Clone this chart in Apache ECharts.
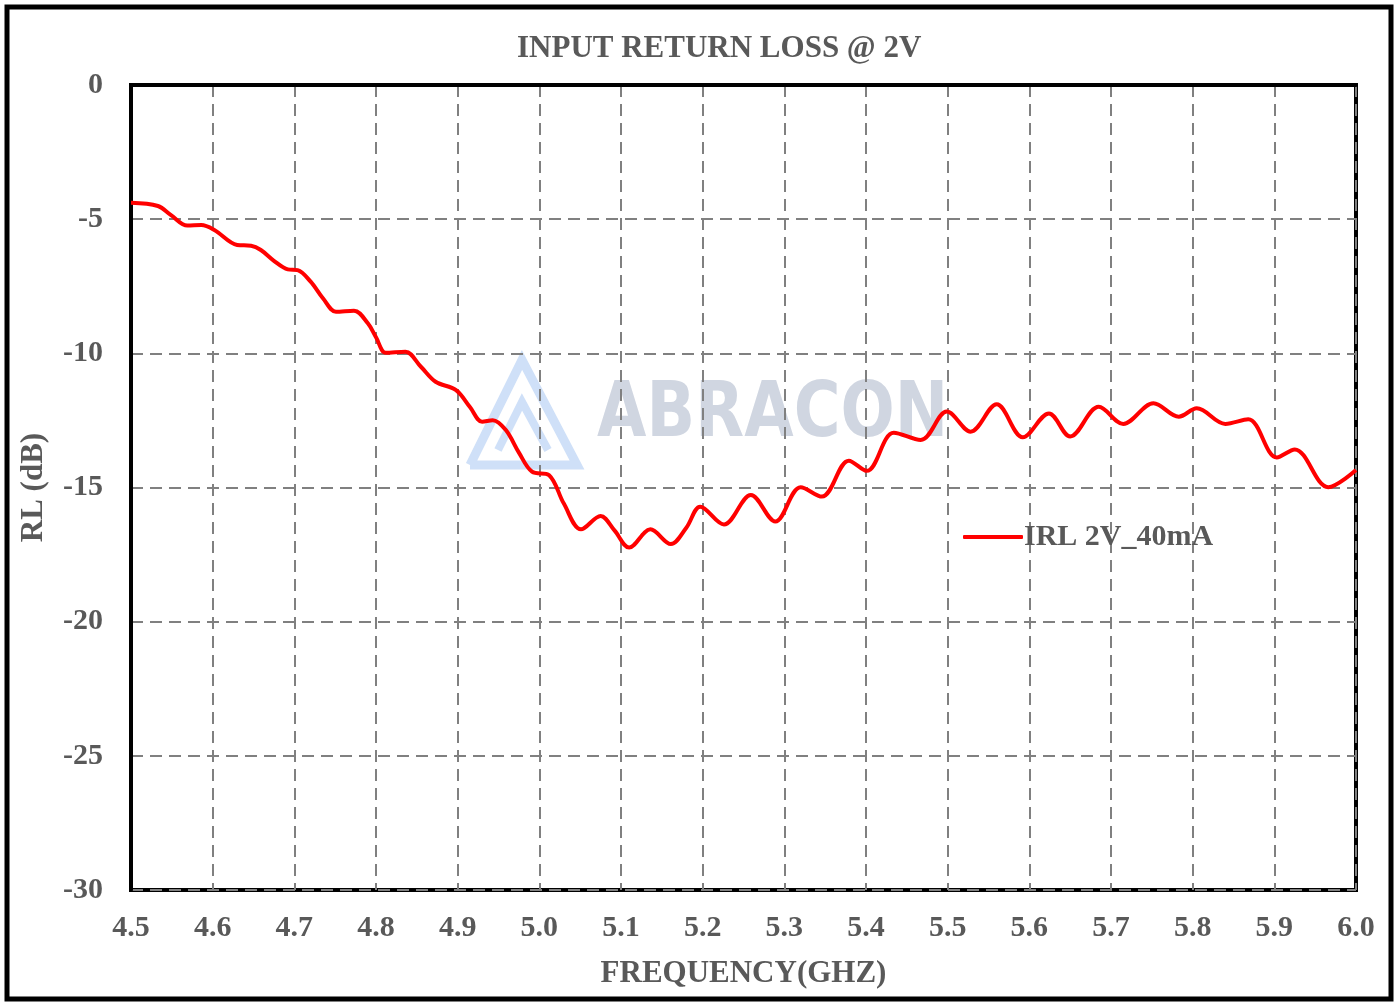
<!DOCTYPE html>
<html>
<head>
<meta charset="UTF-8">
<title>INPUT RETURN LOSS @ 2V</title>
<script src="https://cdn.jsdelivr.net/npm/echarts@6/dist/echarts.min.js"></script>
<style>
  html, body { margin: 0; padding: 0; background: #fff; }
  #chart { width: 1397px; height: 1005px; }
</style>
</head>
<body>
<div id="chart"></div>
<script type="text/javascript">
    // frequency (GHz) and return loss (dB)
    var freqGHz = [4.500, 4.533, 4.549, 4.569, 4.586, 4.602, 4.630, 4.647, 4.659, 4.675, 4.692, 4.704,
        4.720, 4.735, 4.751, 4.773, 4.790, 4.800, 4.812, 4.836, 4.855, 4.873, 4.898, 4.915, 4.930,
        4.943, 4.959, 4.975, 4.991, 5.012, 5.030, 5.051, 5.075, 5.092, 5.110, 5.136, 5.161, 5.180,
        5.197, 5.226, 5.259, 5.289, 5.320, 5.346, 5.379, 5.401, 5.434, 5.467, 5.499, 5.528, 5.560,
        5.592, 5.624, 5.650, 5.685, 5.715, 5.752, 5.783, 5.805, 5.840, 5.868, 5.903, 5.925, 5.966, 6.000];
    var irl2V40mA = [-4.39, -4.51, -4.85, -5.24, -5.22, -5.40, -5.96, -5.99, -6.15, -6.55, -6.87, -6.90,
        -7.33, -7.95, -8.45, -8.41, -8.88, -9.40, -9.98, -9.94, -10.50, -11.06, -11.37, -12.00, -12.55,
        -12.49, -12.86, -13.70, -14.41, -14.54, -15.60, -16.56, -16.06, -16.60, -17.24, -16.56, -17.11, -16.50,
        -15.72, -16.38, -15.28, -16.27, -14.99, -15.34, -14.00, -14.38, -12.96, -13.23, -12.17, -12.92, -11.90,
        -13.13, -12.24, -13.10, -11.99, -12.63, -11.86, -12.36, -12.05, -12.63, -12.46, -13.88, -13.58, -14.99, -14.35];
    var yTicks = [0, -5, -10, -15, -20, -25, -30];
    var seriesName = 'IRL 2V_40mA';

    var points = [];
    for (var i = 0; i < freqGHz.length; i++) {
        points.push([freqGHz[i], irl2V40mA[i]]);
    }

    var grey = '#595959';
    var serif = '"Liberation Serif", "Times New Roman", serif';

    var chart = echarts.init(document.getElementById('chart'));
    chart.setOption({
        animation: false,
        backgroundColor: '#fff',
        title: {
            text: 'INPUT RETURN LOSS @ 2V',
            left: 512,
            top: 28,
            textStyle: {color: grey, fontFamily: serif, fontWeight: 'bold', fontSize: 31}
        },
        legend: {
            data: [seriesName],
            left: 958,
            top: 517,
            itemWidth: 60,
            itemHeight: 4,
            itemGap: 0,
            icon: 'roundRect',
            textStyle: {color: grey, fontFamily: serif, fontWeight: 'bold', fontSize: 30, padding: [0, 0, 0, -4]}
        },
        grid: {
            left: 131,
            right: 41,
            top: 85,
            bottom: 115,
            show: true,
            borderColor: '#000',
            borderWidth: 4
        },
        xAxis: {
            type: 'value',
            min: 4.5,
            max: 6.0,
            interval: 0.1,
            name: 'FREQUENCY(GHZ)',
            nameLocation: 'middle',
            nameGap: 68,
            nameTextStyle: {color: grey, fontFamily: serif, fontWeight: 'bold', fontSize: 31},
            axisLine: {show: true, lineStyle: {color: '#000', width: 4}},
            axisTick: {show: false},
            axisLabel: {
                color: grey, fontFamily: serif, fontWeight: 'bold', fontSize: 30, margin: 23,
                formatter: function (v) { return v.toFixed(1); }
            },
            splitLine: {show: true, lineStyle: {color: '#808080', width: 2, type: [12, 7]}}
        },
        yAxis: {
            type: 'value',
            min: -30,
            max: 0,
            interval: 5,
            name: 'RL (dB)',
            nameLocation: 'middle',
            nameGap: 82,
            nameTextStyle: {color: grey, fontFamily: serif, fontWeight: 'bold', fontSize: 31},
            axisLine: {show: true, lineStyle: {color: '#000', width: 4}},
            axisTick: {show: false},
            axisLabel: {
                color: grey, fontFamily: serif, fontWeight: 'bold', fontSize: 30, margin: 28,
                formatter: function (v) { return yTicks.indexOf(v) >= 0 ? String(v) : ''; }
            },
            splitLine: {show: true, lineStyle: {color: '#808080', width: 2, type: [12, 7]}}
        },
        graphic: [
            // outer frame
            {type: 'rect', shape: {x: 7, y: 7, width: 1384, height: 992}, style: {fill: 'none', stroke: '#000', lineWidth: 5}, z: 100},
            // watermark
            {type: 'polyline', shape: {points: [[470, 465], [522, 360], [577, 465], [470, 465]]}, style: {fill: 'none', stroke: '#cfe0f8', lineWidth: 9}, z: 0},
            {type: 'polyline', shape: {points: [[498, 450], [522, 402], [548, 450]]}, style: {fill: 'none', stroke: '#cfe0f8', lineWidth: 8}, z: 0},
            {type: 'text', x: 597, y: 378, scaleX: 0.84, style: {text: 'ABRACON', fill: '#d0d6e1', font: 'bold 76px "DejaVu Sans", sans-serif'}, z: 0}
        ],
        series: [{
            name: seriesName,
            type: 'line',
            data: points,
            smooth: 0.35,
            showSymbol: false,
            lineStyle: {color: '#ff0000', width: 4},
            itemStyle: {color: '#ff0000'},
            z: 5
        }]
    });
</script>
</body>
</html>
